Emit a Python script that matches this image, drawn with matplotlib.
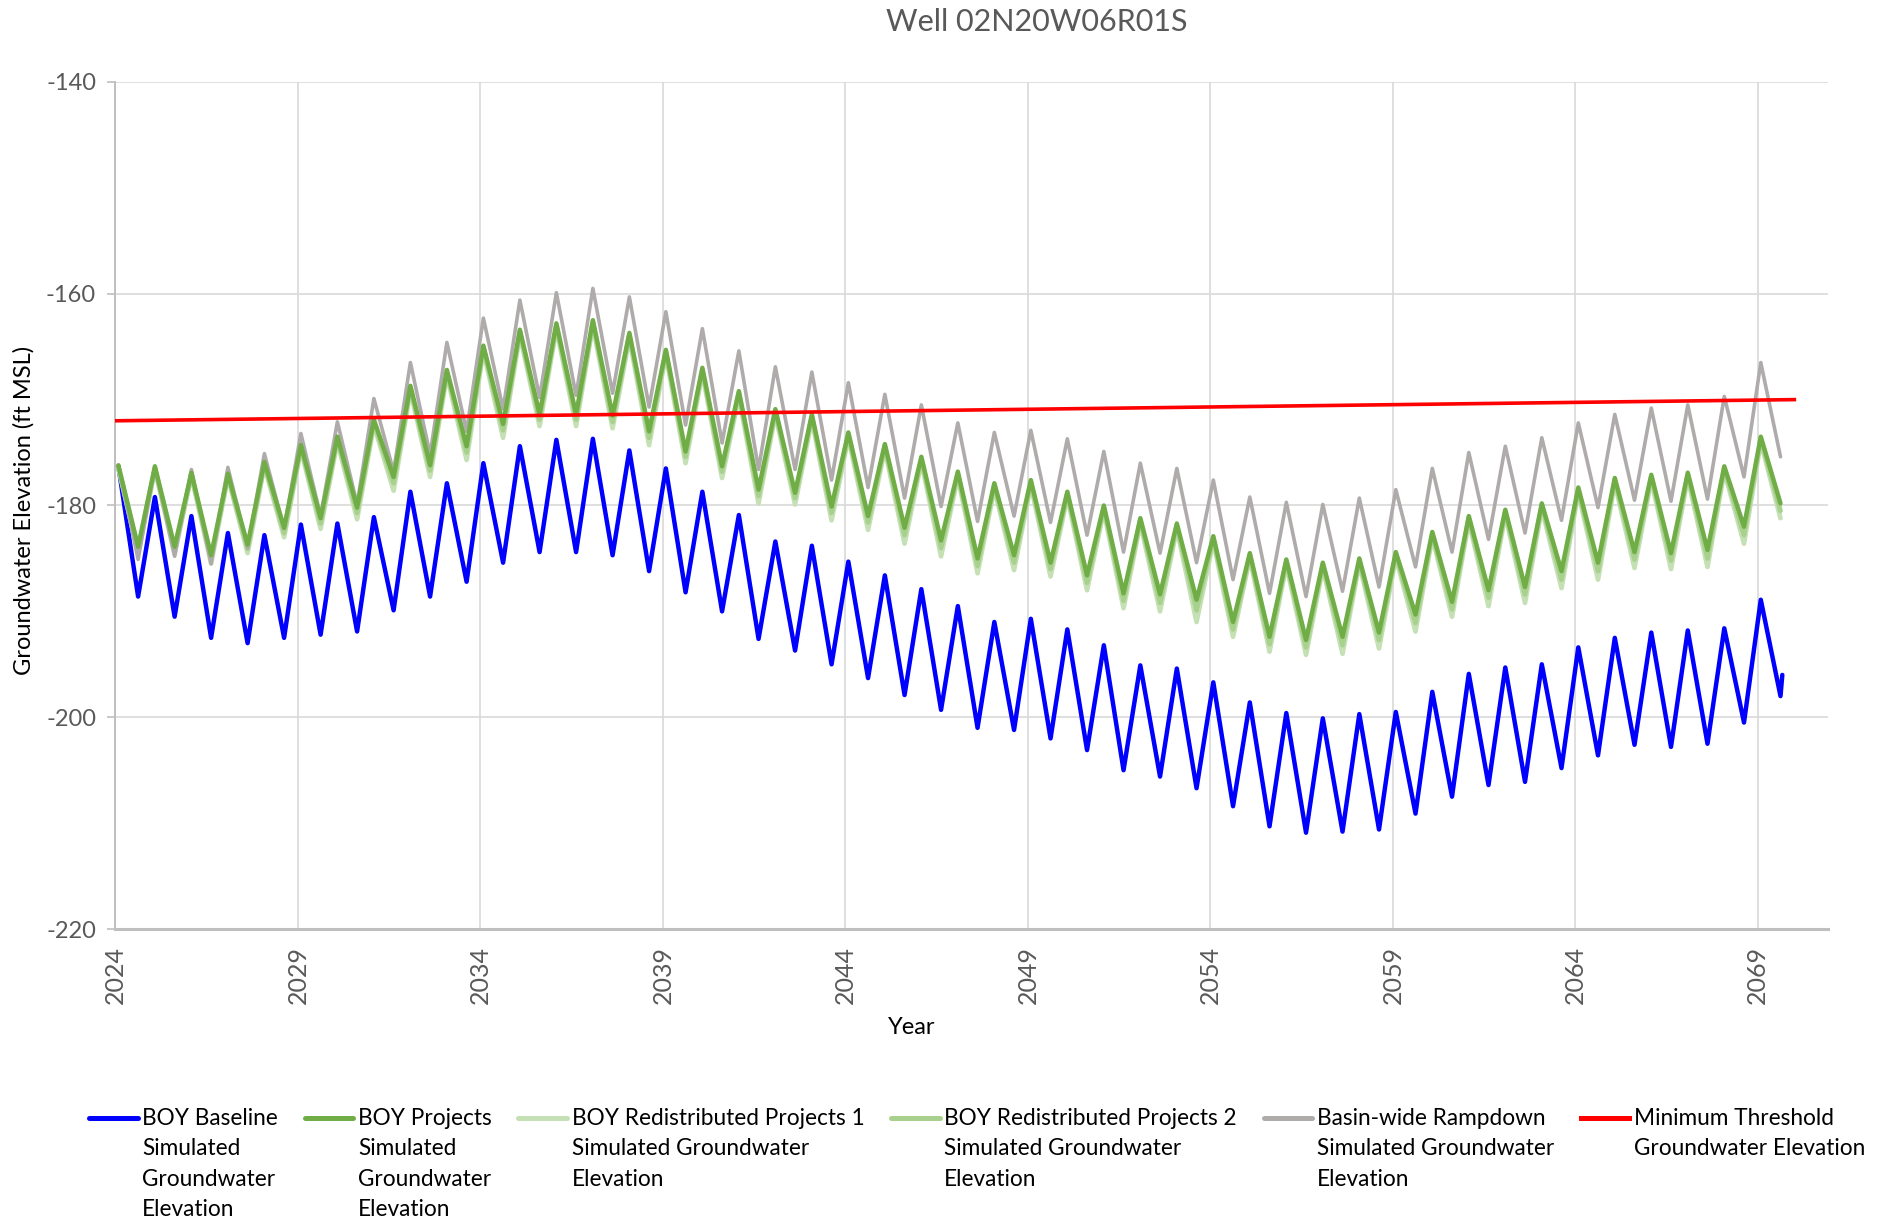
import matplotlib
matplotlib.use("Agg")
import matplotlib.pyplot as plt
import numpy as np

# seasonal highs (early in each year) and lows (late summer), ft MSL, 2024-2069
years = list(range(2024, 2070))

baseline_peaks = [-176.3, -179.2, -181.0, -182.6, -182.8, -181.8, -181.7, -181.1, -178.7, -177.9, -176.0, -174.4,
                  -173.8, -173.7, -174.8, -176.5, -178.7, -180.9, -183.4, -183.8, -185.3, -186.6, -187.9,
                  -189.5, -191.0, -190.7, -191.7, -193.2, -195.1, -195.4, -196.7, -198.6, -199.6, -200.1, -199.7,
                  -199.5, -197.6, -195.9, -195.3, -195.0, -193.4, -192.5, -192.0, -191.8, -191.6, -188.9]
baseline_lows = [-188.6, -190.5, -192.5, -193.0, -192.5, -192.2, -191.9, -189.9, -188.6, -187.2, -185.4, -184.4,
                 -184.4, -184.7, -186.2, -188.2, -190.0, -192.6, -193.7, -195.0, -196.3, -197.9, -199.3,
                 -201.0, -201.2, -202.0, -203.1, -205.0, -205.6, -206.7, -208.4, -210.3, -210.9, -210.8, -210.6,
                 -209.1, -207.5, -206.4, -206.1, -204.8, -203.6, -202.6, -202.8, -202.5, -200.5, -198.0]
baseline_last = -196.0

projects_peaks = [-176.2, -176.3, -176.9, -177.0, -175.9, -174.3, -173.5, -171.9, -168.7, -167.2, -164.9, -163.4,
                  -162.8, -162.5, -163.7, -165.3, -167.0, -169.2, -170.9, -171.4, -173.1, -174.2, -175.4,
                  -176.8, -177.9, -177.6, -178.7, -180.0, -181.2, -181.7, -182.9, -184.5, -185.1, -185.4, -185.0,
                  -184.4, -182.5, -181.0, -180.4, -179.8, -178.3, -177.4, -177.1, -176.9, -176.3, -173.5]
projects_lows = [-183.9, -183.9, -184.7, -183.7, -182.1, -181.2, -180.2, -177.3, -176.2, -174.4, -172.3, -171.4,
                 -171.4, -171.5, -173.0, -174.9, -176.3, -178.5, -178.8, -180.1, -181.0, -182.1, -183.3,
                 -185.0, -184.7, -185.4, -186.6, -188.3, -188.4, -188.9, -191.0, -192.4, -192.7, -192.4, -192.0,
                 -190.3, -189.1, -188.0, -187.7, -186.2, -185.4, -184.4, -184.5, -184.2, -182.0, -179.8]

redist1_peaks = [-176.5, -176.6, -177.2, -177.3, -176.3, -174.7, -174.0, -172.4, -169.2, -167.7, -165.4, -163.9,
                 -163.3, -163.0, -164.2, -165.8, -167.5, -169.7, -171.4, -171.9, -173.6, -174.7, -175.9,
                 -177.3, -178.4, -178.1, -179.2, -180.5, -181.7, -182.2, -183.4, -185.0, -185.6, -185.9, -185.5,
                 -184.9, -183.0, -181.5, -180.9, -180.3, -178.8, -177.9, -177.6, -177.4, -176.8, -174.0]
redist1_lows = [-184.5, -184.6, -185.5, -184.5, -183.0, -182.2, -181.3, -178.6, -177.3, -175.7, -173.6, -172.5,
                -172.5, -172.7, -174.3, -176.0, -177.4, -179.8, -179.9, -181.4, -182.3, -183.6, -184.8,
                -186.4, -186.1, -186.7, -188.0, -189.7, -190.0, -191.0, -192.4, -193.8, -194.1, -194.0, -193.5,
                -191.9, -190.5, -189.5, -189.2, -187.8, -187.0, -185.9, -186.0, -185.8, -183.6, -181.2]

redist2_peaks = [-176.4, -176.5, -177.1, -177.2, -176.1, -174.5, -173.7, -172.1, -168.9, -167.4, -165.1, -163.6,
                 -163.0, -162.7, -163.9, -165.5, -167.2, -169.4, -171.1, -171.6, -173.3, -174.4, -175.6,
                 -177.0, -178.1, -177.8, -178.9, -180.2, -181.4, -181.9, -183.1, -184.7, -185.3, -185.6, -185.2,
                 -184.6, -182.7, -181.2, -180.6, -180.0, -178.5, -177.6, -177.3, -177.1, -176.5, -173.7]
redist2_lows = [-184.2, -184.2, -185.1, -184.1, -182.6, -181.7, -180.7, -177.9, -176.7, -175.0, -172.9, -171.9,
                -171.9, -172.1, -173.6, -175.4, -176.8, -179.1, -179.3, -180.7, -181.6, -182.8, -184.0,
                -185.7, -185.4, -186.0, -187.3, -189.0, -189.2, -189.9, -191.7, -193.1, -193.4, -193.2, -192.7,
                -191.1, -189.8, -188.7, -188.4, -187.0, -186.2, -185.1, -185.2, -185.0, -182.8, -180.5]

rampdown_peaks = [-176.2, -176.3, -176.6, -176.4, -175.1, -173.2, -172.1, -169.9, -166.5, -164.6, -162.3, -160.6,
                  -159.9, -159.5, -160.3, -161.7, -163.3, -165.4, -166.9, -167.4, -168.4, -169.5, -170.5,
                  -172.2, -173.1, -172.9, -173.7, -174.9, -176.0, -176.5, -177.6, -179.2, -179.7, -179.9, -179.3,
                  -178.5, -176.5, -175.0, -174.4, -173.6, -172.2, -171.4, -170.8, -170.5, -169.7, -166.5]
rampdown_lows = [-185.1, -184.8, -185.5, -184.0, -182.2, -181.0, -179.9, -176.8, -175.2, -173.0, -170.9, -169.8,
                 -169.6, -169.4, -170.7, -172.4, -174.1, -176.6, -176.6, -177.6, -178.3, -179.3, -180.1,
                 -181.5, -181.0, -181.6, -182.8, -184.4, -184.5, -185.4, -187.0, -188.3, -188.6, -188.1, -187.7,
                 -185.8, -184.4, -183.2, -182.6, -181.4, -180.2, -179.5, -179.6, -179.4, -177.3, -175.4]

mt_years = [2024.0, 2070.0]
mt_vals = [-172.0, -170.0]

labels = ['BOY Baseline\nSimulated\nGroundwater\nElevation',
          'BOY Projects\nSimulated\nGroundwater\nElevation',
          'BOY Redistributed Projects 1\nSimulated Groundwater\nElevation',
          'BOY Redistributed Projects 2\nSimulated Groundwater\nElevation',
          'Basin-wide Rampdown\nSimulated Groundwater\nElevation',
          'Minimum Threshold\nGroundwater Elevation']
xtick_years = list(range(2024, 2070, 5))
ytick_vals = [-220, -200, -180, -160, -140]

plt.rcParams['font.family'] = ['Lato', 'DejaVu Sans']
grey_txt = '#595959'


def seasonal(peaks, lows):
    t, v = [], []
    for yr, p, lo in zip(years, peaks, lows):
        t += [yr + 0.08, yr + 0.62]
        v += [p, lo]
    return t, v


fig = plt.figure(figsize=(18.87, 12.25), dpi=100)
ax = fig.add_axes([0.0612, 0.2416, 0.9075, 0.6915])

t, v = seasonal(baseline_peaks, baseline_lows)
t.append(2069.67)
v.append(baseline_last)
kw = dict(solid_joinstyle='round', solid_capstyle='round')
l_base, = ax.plot(t, v, color='#0000FF', lw=3.2, zorder=3, **kw)
l_r1, = ax.plot(*seasonal(redist1_peaks, redist1_lows), color='#C5E0B4', lw=3.4, zorder=3, **kw)
l_r2, = ax.plot(*seasonal(redist2_peaks, redist2_lows), color='#A9D18E', lw=3.4, zorder=3, **kw)
l_ramp, = ax.plot(*seasonal(rampdown_peaks, rampdown_lows), color='#AFABAB', lw=2.6, zorder=4, **kw)
l_proj, = ax.plot(*seasonal(projects_peaks, projects_lows), color='#70AD47', lw=3.2, zorder=5, **kw)
l_mt, = ax.plot(mt_years, mt_vals, color='#FF0000', lw=2.6, zorder=6)

ax.set_xlim(2024.0, 2070.92)
ax.set_ylim(-220, -140)
ax.set_xticks(xtick_years)
ax.set_xticklabels([str(y) for y in xtick_years], rotation=90, fontsize=18, color=grey_txt)
ax.set_yticks(ytick_vals)
ax.set_yticklabels([str(y) for y in ytick_vals], fontsize=17, color=grey_txt)
ax.tick_params(axis='x', length=0, pad=12)
ax.tick_params(axis='y', length=6, width=1.2, color='#BFBFBF', pad=8)
ax.grid(True, color='#D9D9D9', lw=1.2)
ax.set_axisbelow(True)
for s in ['top', 'right']:
    ax.spines[s].set_visible(False)
ax.spines['left'].set_color('#BFBFBF')
ax.spines['left'].set_linewidth(1.4)
ax.spines['bottom'].set_color('#BFBFBF')
ax.spines['bottom'].set_linewidth(2.2)

ax.set_ylabel('Groundwater Elevation (ft MSL)', fontsize=17, color='black', va='center')
ax.yaxis.set_label_coords(-0.0534, 0.494)
ax.set_xlabel('Year', fontsize=17, color='black', va='center')
ax.xaxis.set_label_coords(0.465, -0.116)

fig.text(1037 / 1887, 1 - 22 / 1225, 'Well 02N20W06R01S', ha='center', va='center',
         fontsize=22, color=grey_txt)

handles = [l_base, l_proj, l_r1, l_r2, l_ramp, l_mt]
leg_fs = 16.3
leg = fig.legend(handles, labels, ncol=6, loc='upper left', bbox_to_anchor=(89 / 1887, 1 - 1108 / 1225),
                 frameon=False, fontsize=leg_fs, handlelength=2.15, handletextpad=0.2, columnspacing=1.18,
                 borderpad=0, borderaxespad=0)
leg._legend_handle_box.align = 'top'
for h in leg.legend_handles:
    h.set_linewidth(3.6)
for txt in leg.get_texts():
    txt.set_linespacing(1.55)

# move each legend line up to its first text line
fig.canvas.draw()
rend = fig.canvas.get_renderer()
fs_px = leg_fs * fig.dpi / 72
for h, txt in zip(leg.legend_handles, leg.get_texts()):
    bb = txt.get_window_extent(rend)
    target = bb.y1 - 0.45 * fs_px
    yd = np.asarray(h.get_ydata(), dtype=float)
    xd = np.asarray(h.get_xdata(), dtype=float)
    cur = h.get_transform().transform((xd[0], yd[0]))[1]
    h.set_ydata(yd + (target - cur) * 72 / fig.dpi)

fig.savefig('out.png', dpi=100, facecolor='white')
